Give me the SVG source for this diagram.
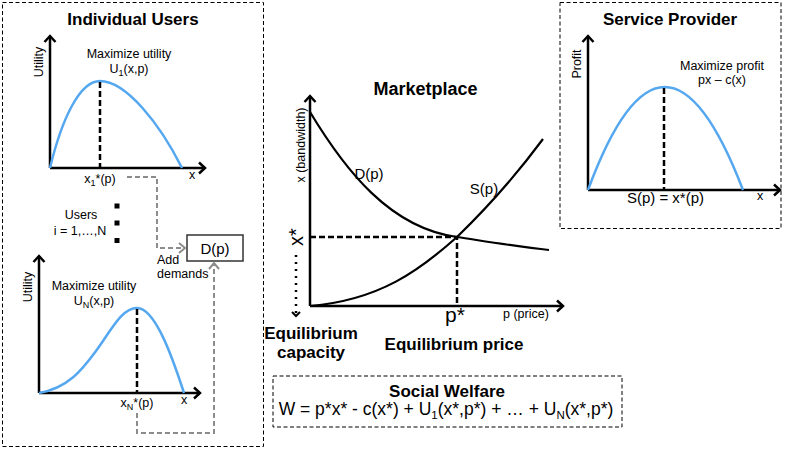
<svg xmlns="http://www.w3.org/2000/svg" width="789" height="449" viewBox="0 0 789 449">
<style>
text{font-family:"Liberation Sans",Arial,sans-serif;fill:#000}
.t{font-weight:bold;font-size:17px;text-anchor:middle}
.s{font-size:12.5px}
.m{text-anchor:middle}
.box{fill:none;stroke:#000;stroke-width:1;stroke-dasharray:4 2.5}
.ax{fill:none;stroke:#000;stroke-width:2.5;marker-end:url(#axa)}
.cv{fill:none;stroke:#55a8f0;stroke-width:2.5}
.dv{fill:none;stroke:#000;stroke-width:2.5;stroke-dasharray:6 3}
.bk{fill:none;stroke:#000;stroke-width:2.2}
.gc{fill:none;stroke:#8c8c8c;stroke-width:2;stroke-dasharray:5 3;marker-end:url(#ga)}
</style>
<defs>
<marker id="axa" markerUnits="userSpaceOnUse" viewBox="-10 -8 12 16" refX="0" refY="0" markerWidth="12" markerHeight="16" orient="auto">
<path d="M-6,-5.5 L0,0 L-6,5.5" fill="none" stroke="#000" stroke-width="2.5"/>
</marker>
<marker id="ga" markerUnits="userSpaceOnUse" viewBox="-10 -8 12 16" refX="0" refY="0" markerWidth="12" markerHeight="16" orient="auto">
<path d="M-6,-5 L0,0 L-6,5" fill="none" stroke="#8c8c8c" stroke-width="2"/>
</marker>
<marker id="da" markerUnits="userSpaceOnUse" viewBox="-8 -6 10 12" refX="0" refY="0" markerWidth="10" markerHeight="12" orient="auto">
<path d="M-4,-4 L0,0 L-4,4" fill="none" stroke="#000" stroke-width="2"/>
</marker>
</defs>

<g id="individual-users">
<rect class="box" x="2.5" y="2.5" width="261" height="444"/>
<text class="t" x="133" y="25">Individual Users</text>
<g id="user-1">
<path class="ax" d="M50,168 V36"/>
<path class="ax" d="M50,168 H205"/>
<path class="cv" d="M50,168 C62,118 80,81 100,81 C126,81 160,124 182,168"/>
<path class="dv" d="M100,82 V168"/>
<text class="s m" x="129" y="58">Maximize utility</text>
<text class="s m" x="129" y="73">U<tspan font-size="9" dy="3">1</tspan><tspan dy="-3">(x,p)</tspan></text>
<text class="s m" transform="translate(43,62) rotate(-90)">Utility</text>
<text class="s m" x="100" y="183">x<tspan font-size="9" dy="3">1</tspan><tspan dy="-3">*(p)</tspan></text>
<text class="s m" x="192" y="179">x</text>
</g>
<g id="users-ellipsis">
<text class="s m" x="81" y="219">Users</text>
<text class="s m" x="80" y="235">i = 1,…,N</text>
<rect x="114.5" y="203.5" width="5" height="5"/>
<rect x="114.5" y="220.5" width="5" height="5"/>
<rect x="114.5" y="238" width="5" height="5"/>
</g>
<g id="user-n">
<path class="ax" d="M39,393 V256"/>
<path class="ax" d="M39,393 H200"/>
<path class="cv" d="M39,393 C68,388 82,370 96,351 C112,329 122,308 137,308 C155,308 172,356 184,393"/>
<path class="dv" d="M137,309 V393"/>
<text class="s m" x="94" y="290">Maximize utility</text>
<text class="s m" x="94" y="305">U<tspan font-size="9" dy="3">N</tspan><tspan dy="-3">(x,p)</tspan></text>
<text class="s m" transform="translate(32,287) rotate(-90)">Utility</text>
<text class="s m" x="137" y="407">x<tspan font-size="9" dy="3">N</tspan><tspan dy="-3">*(p)</tspan></text>
<text class="s m" x="184" y="404">x</text>
</g>
<text class="s" x="157" y="264">Add</text>
<text class="s" x="157" y="278">demands</text>
</g>

<g id="demand-box">
<rect x="187" y="235" width="56" height="26" fill="#fff" stroke="#333" stroke-width="1.5"/>
<text x="215" y="253.5" font-size="15" class="m">D(p)</text>
</g>

<g id="connectors">
<path class="gc" d="M127,177 H157 V248 H185"/>
<path class="gc" d="M137,413 V433 H214 V263"/>
</g>

<g id="marketplace">
<text class="m" x="425.5" y="95" font-size="18" font-weight="bold">Marketplace</text>
<path class="ax" d="M310,306 V96"/>
<path class="ax" d="M310,306 H563"/>
<path class="bk" d="M310,112 C345,170 390,228 457,237 C490,242 520,247 549,250"/>
<path class="bk" d="M310,306 C380,300 420,270 457,237 C490,205 520,170 543,139"/>
<path class="dv" d="M310,237 H457 V306"/>
<text x="369" y="179" font-size="15" class="m">D(p)</text>
<text x="484" y="194" font-size="15" class="m">S(p)</text>
<text class="s m" font-size="12" transform="translate(305,145) rotate(-90)">x (bandwidth)</text>
<text font-size="20" class="m" transform="translate(303,237) rotate(-90)">x*</text>
<path d="M296,255 V316" fill="none" stroke="#000" stroke-width="2.5" stroke-dasharray="2 5" marker-end="url(#da)"/>
<text x="455" y="322" font-size="21" class="m">p*</text>
<text class="s" x="503" y="318">p (price)</text>
<text class="t" x="311" y="339">Equilibrium</text>
<text class="t" x="311" y="358">capacity</text>
<text class="t" x="454" y="350">Equilibrium price</text>
</g>

<g id="service-provider">
<rect class="box" x="560" y="2.5" width="221" height="226"/>
<text class="t" x="670" y="25">Service Provider</text>
<path class="ax" d="M588,190 V36"/>
<path class="ax" d="M588,190 H780"/>
<path class="cv" d="M588,190 Q664,-16 743,190"/>
<path class="dv" d="M664,88 V190"/>
<text class="s m" transform="translate(581,64) rotate(-90)">Profit</text>
<text class="s m" x="722" y="70">Maximize profit</text>
<text class="s m" x="722" y="84">px – c(x)</text>
<text x="665.5" y="203" font-size="15" class="m">S(p) = x*(p)</text>
<text class="s m" x="760" y="200">x</text>
</g>

<g id="social-welfare">
<rect class="box" x="273" y="376" width="349" height="51"/>
<text class="t" x="447" y="397">Social Welfare</text>
<text x="446" y="415" font-size="17.5" class="m">W = p*x* - c(x*) + U<tspan font-size="11.5" dy="4">1</tspan><tspan dy="-4">(x*,p*) + … + U</tspan><tspan font-size="11.5" dy="4">N</tspan><tspan dy="-4">(x*,p*)</tspan></text>
</g>
</svg>
